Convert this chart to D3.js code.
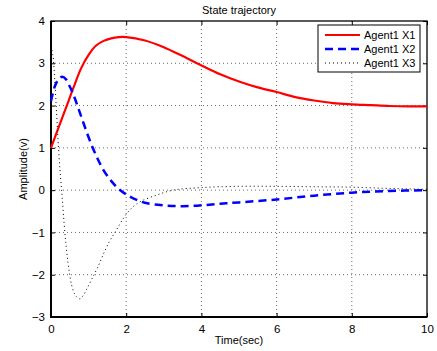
<!DOCTYPE html>
<html>
<head>
<meta charset="utf-8">
<script src="https://cdn.jsdelivr.net/npm/d3@7"></script>
<style>
  body { margin: 0; background: #fff; }
  svg text { font-family: "Liberation Sans", Arial, Helvetica, sans-serif; }
</style>
</head>
<body>
<div id="chart"></div>
<script>
// Agent1 X1 (red solid)
const tX1 = [0, 0.2, 0.4, 0.6, 0.8, 1.0, 1.2, 1.4, 1.6, 1.8, 2.0, 2.5, 3, 3.5, 4, 4.5, 5, 5.5, 6, 6.5, 7, 7.5, 8, 8.5, 9, 9.5, 10];
const x1Values = [1.0, 1.48, 1.95, 2.43, 2.88, 3.2, 3.42, 3.53, 3.59, 3.62, 3.62, 3.54, 3.38, 3.17, 2.95, 2.74, 2.57, 2.43, 2.32, 2.2, 2.12, 2.06, 2.03, 2.01, 1.99, 1.98, 1.98];

// Agent1 X2 (blue dashed)
const tX2 = [0, 0.1, 0.2, 0.3, 0.4, 0.5, 0.6, 0.8, 1.0, 1.2, 1.4, 1.6, 1.8, 2.0, 2.2, 2.5, 3, 3.5, 4, 4.5, 5, 6, 7, 8, 9, 10];
const x2Values = [2.1, 2.45, 2.62, 2.68, 2.62, 2.45, 2.25, 1.75, 1.25, 0.82, 0.47, 0.22, 0.03, -0.1, -0.2, -0.3, -0.36, -0.38, -0.36, -0.32, -0.29, -0.22, -0.13, -0.06, -0.02, 0.0];

// Agent1 X3 (black dotted)
const tX3 = [0, 0.05, 0.1, 0.15, 0.2, 0.25, 0.3, 0.35, 0.4, 0.45, 0.5, 0.55, 0.62, 0.7, 0.77, 0.85, 0.94, 1.07, 1.25, 1.4, 1.55, 1.7, 2.0, 2.2, 2.4, 2.8, 3.25, 4, 5, 6, 7, 8, 9, 10];
const x3Values = [3.4, 3.2, 2.6, 1.8, 1.0, 0.35, -0.2, -0.8, -1.3, -1.7, -2.02, -2.25, -2.44, -2.54, -2.57, -2.5, -2.36, -2.13, -1.81, -1.5, -1.22, -1.0, -0.57, -0.38, -0.26, -0.12, 0.0, 0.06, 0.09, 0.09, 0.08, 0.07, 0.04, 0.02];

const xTicks = [0, 2, 4, 6, 8, 10];
const yTicks = [-3, -2, -1, 0, 1, 2, 3, 4];
const seriesNames = ['Agent1 X1', 'Agent1 X2', 'Agent1 X3'];

const W = 437, H = 351;
const margin = { top: 21, right: 10, bottom: 34, left: 51 };
const width = W - margin.left - margin.right;
const height = H - margin.top - margin.bottom;

const svg = d3.select('#chart').append('svg')
  .attr('width', W)
  .attr('height', H);

const g = svg.append('g')
  .attr('transform', `translate(${margin.left},${margin.top})`);

const xScale = d3.scaleLinear().domain([0, 10]).range([0, width]);
const yScale = d3.scaleLinear().domain([-3, 4]).range([height, 0]);

// grid
g.append('g').selectAll('line')
  .data(xTicks.slice(1, -1))
  .enter().append('line')
  .attr('x1', d => xScale(d)).attr('x2', d => xScale(d))
  .attr('y1', 0).attr('y2', height)
  .attr('stroke', '#444').attr('stroke-width', 0.8)
  .attr('stroke-dasharray', '1,3');

g.append('g').selectAll('line')
  .data(yTicks.slice(1, -1))
  .enter().append('line')
  .attr('x1', 0).attr('x2', width)
  .attr('y1', d => yScale(d)).attr('y2', d => yScale(d))
  .attr('stroke', '#444').attr('stroke-width', 0.8)
  .attr('stroke-dasharray', '1,3');

// axes (inward ticks, matlab style)
const tickLen = 4;
g.append('g')
  .attr('transform', `translate(0,${height})`)
  .call(d3.axisBottom(xScale).tickValues(xTicks).tickSize(-tickLen).tickPadding(8))
  .call(a => a.select('.domain').remove());
g.append('g')
  .call(d3.axisTop(xScale).tickValues(xTicks).tickSize(-tickLen).tickFormat(''))
  .call(a => a.select('.domain').remove());
g.append('g')
  .call(d3.axisLeft(yScale).tickValues(yTicks).tickSize(-tickLen).tickPadding(6)
    .tickFormat(d => d < 0 ? '\u2212' + Math.abs(d) : d))
  .call(a => a.select('.domain').remove());
g.append('g')
  .attr('transform', `translate(${width},0)`)
  .call(d3.axisRight(yScale).tickValues(yTicks).tickSize(-tickLen).tickFormat(''))
  .call(a => a.select('.domain').remove());

g.selectAll('.tick line').attr('stroke', '#000').attr('stroke-width', 1);
g.selectAll('.tick text').attr('fill', '#000').style('font-size', '11.5px');

// frame
g.append('rect')
  .attr('x', 0).attr('y', 0)
  .attr('width', width).attr('height', height)
  .attr('fill', 'none')
  .attr('stroke', '#000')
  .attr('stroke-width', 1.3);
g.append('path')
  .attr('d', `M0,0V${height}H${width}`)
  .attr('fill', 'none')
  .attr('stroke', '#000')
  .attr('stroke-width', 2);

// lines
const line = d3.line()
  .x(d => xScale(d[0]))
  .y(d => yScale(d[1]))
  .curve(d3.curveCatmullRom);

g.append('path')
  .datum(tX1.map((t, i) => [t, x1Values[i]]))
  .attr('d', line)
  .attr('fill', 'none')
  .attr('stroke', '#ff0000')
  .attr('stroke-width', 2.2);

g.append('path')
  .datum(tX2.map((t, i) => [t, x2Values[i]]))
  .attr('d', line)
  .attr('fill', 'none')
  .attr('stroke', '#0000ff')
  .attr('stroke-width', 2.5)
  .attr('stroke-dasharray', '8,5');

g.append('path')
  .datum(tX3.map((t, i) => [t, x3Values[i]]))
  .attr('d', line)
  .attr('fill', 'none')
  .attr('stroke', '#000')
  .attr('stroke-width', 1)
  .attr('stroke-dasharray', '1,3');

// titles
svg.append('text')
  .attr('x', margin.left + width / 2)
  .attr('y', 14)
  .attr('text-anchor', 'middle')
  .style('font-size', '11px')
  .text('State trajectory');

svg.append('text')
  .attr('x', margin.left + width / 2)
  .attr('y', 344)
  .attr('text-anchor', 'middle')
  .style('font-size', '11px')
  .text('Time(sec)');

svg.append('text')
  .attr('transform', 'rotate(-90)')
  .attr('x', -(margin.top + height / 2))
  .attr('y', 27)
  .attr('text-anchor', 'middle')
  .style('font-size', '11px')
  .text('Amplitude(v)');

// legend
const legend = svg.append('g').attr('transform', 'translate(318,25)');
legend.append('rect')
  .attr('width', 102).attr('height', 47)
  .attr('fill', '#fff')
  .attr('stroke', '#000')
  .attr('stroke-width', 1);

const legStyles = [
  { color: '#ff0000', width: 2.2, dash: null },
  { color: '#0000ff', width: 2.5, dash: '8,5' },
  { color: '#000', width: 1, dash: '1,3' }
];
seriesNames.forEach((name, i) => {
  const y = 10 + i * 14;
  legend.append('line')
    .attr('x1', 7).attr('x2', 42)
    .attr('y1', y).attr('y2', y)
    .attr('stroke', legStyles[i].color)
    .attr('stroke-width', legStyles[i].width)
    .attr('stroke-dasharray', legStyles[i].dash);
  legend.append('text')
    .attr('x', 46)
    .attr('y', y + 4)
    .style('font-size', '11px')
    .text(name);
});
</script>
</body>
</html>
